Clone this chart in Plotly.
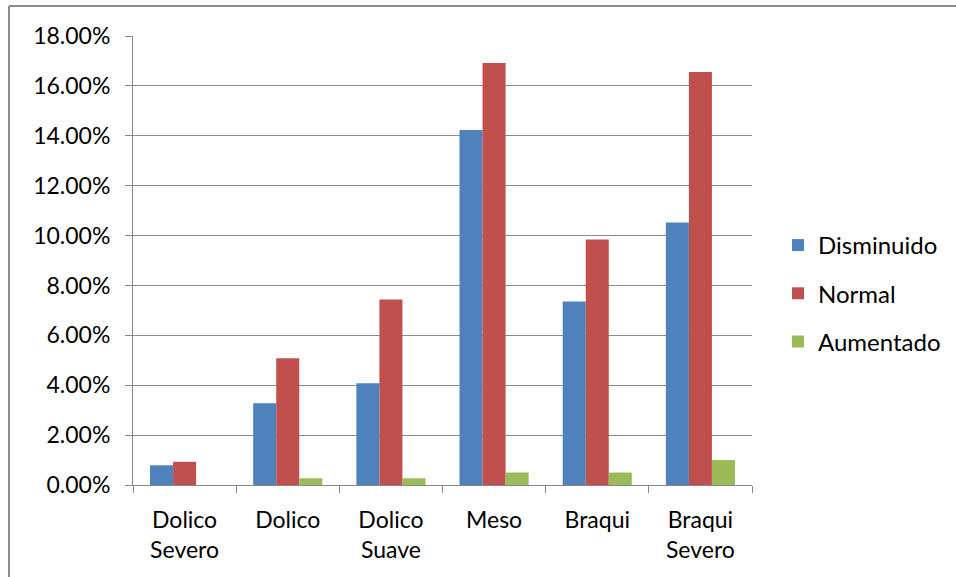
import plotly.graph_objects as go

categories = ["Dolico<br>Severo", "Dolico", "Dolico<br>Suave", "Meso", "Braqui", "Braqui<br>Severo"]
disminuido = [0.0079, 0.0328, 0.0408, 0.1423, 0.0736, 0.1052]
normal = [0.0093, 0.0508, 0.0744, 0.1692, 0.0984, 0.1656]
aumentado = [0.0, 0.0027, 0.0027, 0.0050, 0.0050, 0.0100]
series_names = ["Disminuido", "Normal", "Aumentado"]
colors = ["#4F81BD", "#C0504D", "#9BBB59"]
y_ticks = [0, 0.02, 0.04, 0.06, 0.08, 0.10, 0.12, 0.14, 0.16, 0.18]

W, H = 956, 577
L, R, T, B = 133, 204, 36, 92
pw, ph = W - L - R, H - T - B

fig = go.Figure()
for name, vals, col in zip(series_names, [disminuido, normal, aumentado], colors):
    fig.add_trace(go.Bar(x=categories, y=vals, name=name, marker=dict(color=col, line=dict(width=0)),
                         legendgroup=name))

fig.update_layout(
    width=W, height=H,
    margin=dict(l=L, r=R, t=T, b=B, autoexpand=False),
    paper_bgcolor="white", plot_bgcolor="white",
    barmode="group", bargap=0.33, bargroupgap=0,
    font=dict(family="Lato, Open Sans, sans-serif", size=23, color="#000000"),
    legend=dict(xref="container", yref="container", x=778 / W, y=1 - 223 / H,
                xanchor="left", yanchor="top",
                font=dict(size=24), tracegroupgap=14, itemwidth=30, bgcolor="rgba(0,0,0,0)"),
    xaxis=dict(type="category", tickson="boundaries", ticks="outside", ticklen=7, tickcolor="#888888",
               showline=True, linecolor="#888888", linewidth=1, showgrid=False,
               tickfont=dict(size=23), ticklabelstandoff=14),
    yaxis=dict(range=[0, 0.18], tickvals=y_ticks, tickformat=".2%", ticks="outside", ticklen=7,
               tickcolor="#888888", showline=True, linecolor="#888888", linewidth=1,
               showgrid=True, gridcolor="#8C8C8C", gridwidth=1, zeroline=False,
               tickfont=dict(size=23), ticklabelstandoff=10),
    shapes=[
        dict(type="line", xref="paper", yref="paper", x0=(9 - L) / pw, x1=(W - L) / pw,
             y0=1 + (T - 6) / ph, y1=1 + (T - 6) / ph, line=dict(color="#8C8C8C", width=2)),
        dict(type="line", xref="paper", yref="paper", x0=(9 - L) / pw, x1=(9 - L) / pw,
             y0=1 + (T - 6) / ph, y1=-(B) / ph, line=dict(color="#8C8C8C", width=2)),
    ],
)

fig.write_html("out.html")
